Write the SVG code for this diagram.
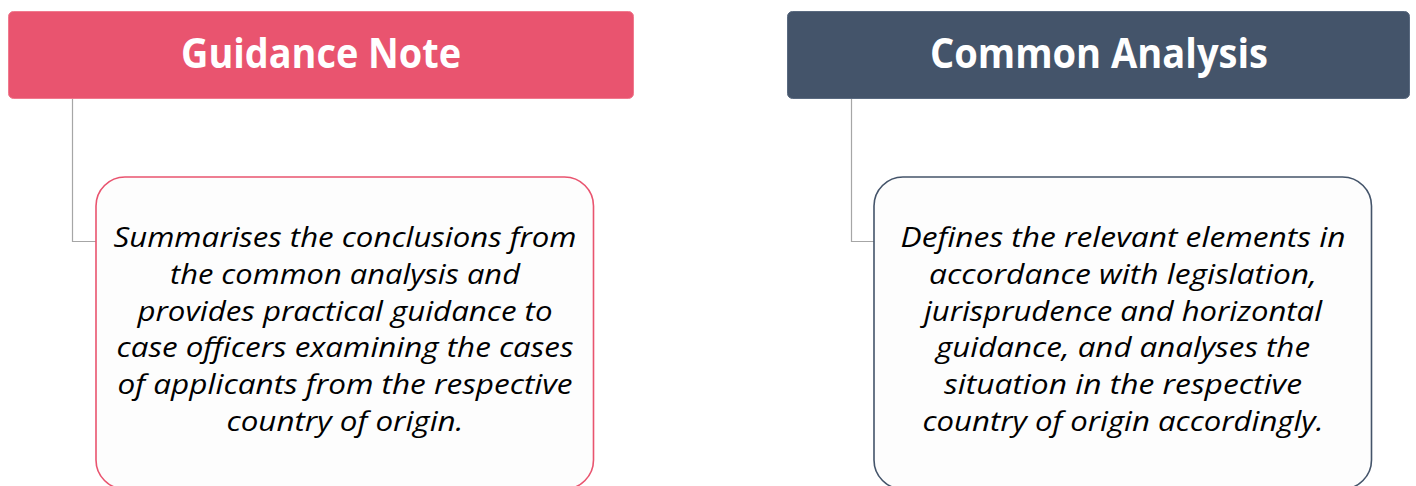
<svg xmlns="http://www.w3.org/2000/svg" width="1416" height="486" viewBox="0 0 1416 486">
<style>
.hdr{stroke-width:1}
.title{font-family:"Open Sans","Liberation Sans",sans-serif;font-weight:bold;font-size:41px;fill:#ffffff;text-anchor:middle}
.body{font-family:"Open Sans","Liberation Sans",sans-serif;font-style:italic;font-size:28px;fill:#000000;text-anchor:middle}
.conn{fill:none;stroke:#A6A6A6;stroke-width:1.2}
</style>
<rect width="1416" height="486" fill="#ffffff"/>
<g id="connectors">
<path class="conn" d="M72.5,99 V241.5 H96"/>
<path class="conn" d="M851.5,99 V241.5 H874"/>
</g>
<g id="guidance-note">
<rect x="8.5" y="11.5" width="625" height="87" rx="5" fill="#E9546F" stroke="#F07A8E" class="hdr"/>
<text class="title" x="321" y="68" textLength="280" lengthAdjust="spacingAndGlyphs">Guidance Note</text>
</g>
<g id="common-analysis">
<rect x="787.5" y="11.5" width="622" height="87" rx="5" fill="#44546A" stroke="#5A6A80" class="hdr"/>
<text class="title" x="1099" y="68" textLength="338" lengthAdjust="spacingAndGlyphs">Common Analysis</text>
</g>
<g id="guidance-note-desc">
<rect x="96" y="177" width="497.5" height="312" rx="29" fill="#FDFDFD" stroke="#E9546F" stroke-width="1.6"/>
<text class="body" x="345" y="247" textLength="463" lengthAdjust="spacingAndGlyphs">Summarises the conclusions from</text>
<text class="body" x="345" y="284" textLength="350" lengthAdjust="spacingAndGlyphs">the common analysis and</text>
<text class="body" x="345" y="321" textLength="415" lengthAdjust="spacingAndGlyphs">provides practical guidance to</text>
<text class="body" x="345" y="357" textLength="457" lengthAdjust="spacingAndGlyphs">case officers examining the cases</text>
<text class="body" x="345" y="394" textLength="455" lengthAdjust="spacingAndGlyphs">of applicants from the respective</text>
<text class="body" x="345" y="431" textLength="237" lengthAdjust="spacingAndGlyphs">country of origin.</text>
</g>
<g id="common-analysis-desc">
<rect x="874" y="177" width="497.5" height="312" rx="29" fill="#FDFDFD" stroke="#44546A" stroke-width="1.6"/>
<text class="body" x="1123" y="247" textLength="445" lengthAdjust="spacingAndGlyphs">Defines the relevant elements in</text>
<text class="body" x="1123" y="284" textLength="388" lengthAdjust="spacingAndGlyphs">accordance with legislation,</text>
<text class="body" x="1123" y="321" textLength="398" lengthAdjust="spacingAndGlyphs">jurisprudence and horizontal</text>
<text class="body" x="1123" y="357" textLength="374" lengthAdjust="spacingAndGlyphs">guidance, and analyses the</text>
<text class="body" x="1123" y="394" textLength="358" lengthAdjust="spacingAndGlyphs">situation in the respective</text>
<text class="body" x="1123" y="431" textLength="401" lengthAdjust="spacingAndGlyphs">country of origin accordingly.</text>
</g>
</svg>
